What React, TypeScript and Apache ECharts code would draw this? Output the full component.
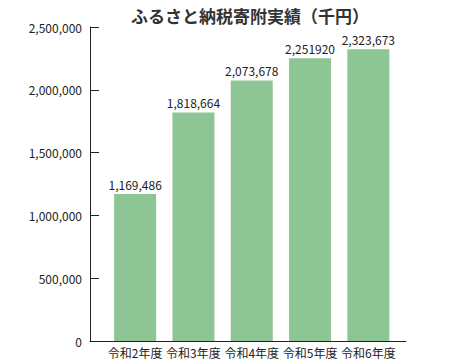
import React, { useEffect, useRef } from "react";
import * as echarts from "echarts";

const categories = ["令和2年度", "令和3年度", "令和4年度", "令和5年度", "令和6年度"];
const values = [1169486, 1818664, 2073678, 2251920, 2323673];
const valueLabels = ["1,169,486", "1,818,664", "2,073,678", "2,251920", "2,323,673"];

const FONT = "'Noto Sans CJK JP', 'Noto Sans', sans-serif";

export default function App() {
  const ref = useRef<HTMLDivElement>(null);
  useEffect(() => {
    if (!ref.current) return;
    const chart = echarts.init(ref.current, null, { renderer: "svg" });
    chart.setOption({
      animation: false,
      backgroundColor: "#ffffff",
      title: {
        text: "ふるさと納税寄附実績（千円）",
        left: 245,
        textAlign: "center",
        top: 2,
        textStyle: { fontFamily: FONT, fontSize: 17, fontWeight: "bold", color: "#333" },
      },
      grid: [
        { left: 106, right: 54.5, top: 27, bottom: 22 },
        { left: 90, right: 46, top: 27, bottom: 22 },
      ],
      xAxis: [
        {
          type: "category",
          data: categories,
          gridIndex: 0,
          axisLine: { show: false },
          axisTick: { show: false },
          axisLabel: { interval: 0, fontFamily: FONT, fontSize: 12, color: "#222", margin: 5 },
        },
        {
          type: "value",
          gridIndex: 1,
          axisLine: { show: true, onZero: false, lineStyle: { color: "#222", width: 1 } },
          axisTick: { show: false },
          axisLabel: { show: false },
          splitLine: { show: false },
        },
      ],
      yAxis: [
        {
          type: "value",
          gridIndex: 0,
          min: 0,
          max: 2500000,
          interval: 500000,
          offset: 16,
          axisLine: { show: true, lineStyle: { color: "#222", width: 1 } },
          axisTick: { show: true, inside: true, length: 9, lineStyle: { color: "#222" } },
          splitLine: { show: false },
          axisLabel: {
            fontFamily: FONT,
            fontSize: 12,
            color: "#222",
            margin: 8,
            formatter: (v: number) => v.toLocaleString("en-US"),
          },
        },
        {
          type: "value",
          gridIndex: 1,
          show: false,
        },
      ],
      series: [
        {
          type: "bar",
          xAxisIndex: 0,
          yAxisIndex: 0,
          data: values,
          barWidth: 42,
          itemStyle: { color: "#8ec594" },
          label: {
            show: true,
            position: "top",
            distance: 4,
            fontFamily: FONT,
            fontSize: 12,
            color: "#222",
            formatter: (p: any) => valueLabels[p.dataIndex],
          },
        },
      ],
    });
    return () => chart.dispose();
  }, []);
  return (
    <div
      ref={ref}
      style={{ position: "fixed", left: 0, top: 0, width: 452, height: 363 }}
    />
  );
}
